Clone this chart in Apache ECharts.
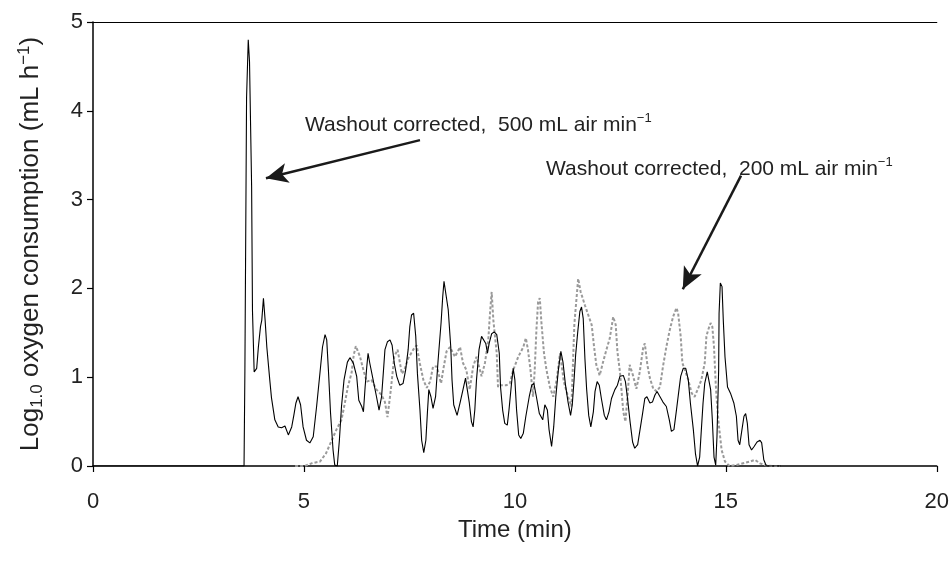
<!DOCTYPE html>
<html><head><meta charset="utf-8">
<script src="https://cdn.jsdelivr.net/npm/echarts@6/dist/echarts.min.js"></script>
<style>html,body{margin:0;padding:0;background:#fff}#c{width:952px;height:562px}</style>
</head><body><div id="c"></div>
<script>
// ---- data (time in min, log10 oxygen consumption) ----
const xTicks = [0, 5, 10, 15, 20];
const yTicks = [0, 1, 2, 3, 4, 5];

// Washout corrected, 500 mL air min-1 (solid black)
const washout500 = [
 [0,0],[3.58,0],[3.60,1.05],[3.64,4.15],[3.68,4.8],[3.71,4.55],[3.76,3.14],[3.78,1.75],[3.82,1.06],[3.88,1.10],
 [3.92,1.34],[3.97,1.57],[4.00,1.64],[4.04,1.89],[4.08,1.64],[4.12,1.34],[4.19,0.97],[4.23,0.77],[4.31,0.52],[4.39,0.44],
 [4.47,0.43],[4.55,0.45],[4.63,0.35],[4.71,0.44],[4.76,0.57],[4.81,0.71],[4.86,0.78],[4.92,0.69],[4.98,0.44],[5.06,0.29],
 [5.14,0.26],[5.22,0.33],[5.30,0.67],[5.38,1.05],[5.44,1.34],[5.50,1.48],[5.54,1.42],[5.58,1.08],[5.63,0.60],[5.69,0.18],
 [5.73,0.01],[5.79,0],[5.84,0.29],[5.89,0.67],[5.95,0.97],[6.03,1.17],[6.09,1.22],[6.17,1.16],[6.25,1.01],[6.30,0.74],
 [6.37,0.67],[6.41,0.61],[6.45,0.89],[6.49,1.12],[6.52,1.27],[6.56,1.16],[6.64,0.97],[6.72,0.78],[6.78,0.63],[6.84,0.78],
 [6.88,1.04],[6.92,1.31],[6.98,1.40],[7.04,1.42],[7.09,1.36],[7.14,1.16],[7.20,1.01],[7.27,0.91],[7.35,0.93],[7.41,1.08],
 [7.47,1.31],[7.51,1.57],[7.55,1.70],[7.60,1.72],[7.65,1.46],[7.69,1.04],[7.75,0.63],[7.79,0.29],[7.84,0.15],[7.89,0.29],
 [7.93,0.63],[7.96,0.86],[8.01,0.78],[8.06,0.65],[8.12,0.78],[8.18,1.19],[8.25,1.61],[8.29,1.91],[8.32,2.08],[8.36,2.06],
 [8.42,1.76],[8.48,1.34],[8.51,0.97],[8.55,0.69],[8.63,0.57],[8.70,0.71],[8.77,0.86],[8.83,0.99],[8.87,0.97],[8.92,0.71],
 [8.97,0.50],[9.01,0.44],[9.05,0.63],[9.09,0.97],[9.15,1.31],[9.21,1.46],[9.25,1.48],[9.31,1.38],[9.35,1.27],[9.39,1.38],
 [9.45,1.49],[9.51,1.51],[9.57,1.48],[9.63,1.27],[9.66,0.89],[9.71,0.63],[9.76,0.48],[9.82,0.46],[9.86,0.63],[9.92,0.93],
 [9.96,1.10],[10.00,0.97],[10.04,0.63],[10.09,0.35],[10.14,0.31],[10.20,0.37],[10.26,0.56],[10.34,0.78],[10.40,0.91],[10.45,0.93],
 [10.51,0.78],[10.58,0.59],[10.66,0.52],[10.71,0.69],[10.77,0.63],[10.81,0.41],[10.87,0.22],[10.92,0.44],[10.97,0.78],[11.03,1.08],
 [11.09,1.29],[11.14,1.17],[11.20,0.91],[11.26,0.72],[11.32,0.57],[11.36,0.69],[11.40,0.95],[11.44,1.25],[11.49,1.51],[11.54,1.74],
 [11.58,1.79],[11.62,1.66],[11.66,1.21],[11.70,0.87],[11.75,0.57],[11.80,0.44],[11.86,0.61],[11.90,0.84],[11.95,0.95],[12.00,0.91],
 [12.05,0.76],[12.12,0.57],[12.17,0.52],[12.23,0.61],[12.29,0.76],[12.37,0.86],[12.43,0.91],[12.49,1.01],[12.57,1.02],[12.62,0.95],
 [12.67,0.76],[12.73,0.50],[12.79,0.27],[12.84,0.20],[12.91,0.24],[12.96,0.39],[13.02,0.57],[13.08,0.76],[13.13,0.78],[13.20,0.71],
 [13.26,0.72],[13.32,0.80],[13.37,0.84],[13.44,0.78],[13.51,0.72],[13.59,0.67],[13.66,0.52],[13.71,0.39],[13.77,0.41],[13.83,0.63],
 [13.89,0.86],[13.93,1.01],[13.99,1.10],[14.05,1.10],[14.11,0.97],[14.16,0.71],[14.23,0.41],[14.28,0.14],[14.33,0],[14.38,0.10],
 [14.42,0.41],[14.46,0.71],[14.50,0.93],[14.56,1.06],[14.60,1.04],[14.64,0.86],[14.68,0.52],[14.72,0.10],[14.76,0.01],[14.79,0.33],
 [14.83,1.08],[14.84,1.72],[14.87,2.06],[14.91,2.02],[14.94,1.64],[14.98,1.23],[15.04,0.89],[15.11,0.82],[15.19,0.71],[15.25,0.56],
 [15.29,0.29],[15.33,0.24],[15.37,0.37],[15.43,0.56],[15.47,0.59],[15.51,0.48],[15.55,0.24],[15.61,0.18],[15.67,0.22],[15.74,0.27],
 [15.81,0.29],[15.85,0.26],[15.90,0.07],[15.96,0],[16.30,0]
];

// Washout corrected, 200 mL air min-1 (grey dotted)
const washout200 = [
 [4.79,0],[5.02,0],[5.18,0.03],[5.38,0.05],[5.52,0.14],[5.66,0.29],[5.77,0.41],[5.89,0.52],[5.97,0.71],[6.04,0.89],
 [6.13,1.05],[6.18,1.25],[6.23,1.35],[6.33,1.23],[6.41,1.08],[6.49,0.95],[6.60,0.97],[6.72,0.86],[6.84,0.80],[6.92,0.72],
 [6.98,0.55],[7.06,0.86],[7.14,1.23],[7.22,1.31],[7.32,1.04],[7.38,1.08],[7.47,1.21],[7.59,1.31],[7.67,1.36],[7.75,1.15],
 [7.83,0.97],[7.91,0.88],[7.99,0.95],[8.06,1.12],[8.15,1.12],[8.25,0.93],[8.30,1.08],[8.38,1.29],[8.46,1.34],[8.58,1.23],
 [8.70,1.34],[8.77,1.16],[8.85,1.08],[8.93,0.86],[9.01,1.12],[9.09,1.23],[9.21,1.01],[9.29,1.16],[9.37,1.42],[9.41,1.72],
 [9.45,1.96],[9.49,1.64],[9.57,1.27],[9.60,0.89],[9.68,0.91],[9.80,0.91],[9.88,0.93],[9.96,1.08],[10.08,1.23],[10.20,1.34],
 [10.26,1.44],[10.31,1.31],[10.37,1.08],[10.43,0.78],[10.47,1.08],[10.51,1.53],[10.55,1.85],[10.59,1.89],[10.63,1.61],[10.69,1.27],
 [10.75,1.08],[10.83,0.89],[10.91,0.78],[10.99,0.97],[11.07,1.27],[11.16,0.95],[11.26,0.78],[11.34,0.67],[11.41,1.60],[11.50,2.11],
 [11.56,1.96],[11.66,1.81],[11.74,1.70],[11.82,1.59],[11.88,1.33],[11.93,1.14],[12.01,1.02],[12.09,1.17],[12.17,1.31],[12.25,1.44],
 [12.33,1.68],[12.39,1.59],[12.43,1.29],[12.49,1.06],[12.53,0.84],[12.57,0.61],[12.62,0.50],[12.68,0.84],[12.72,1.14],[12.80,1.02],
 [12.88,0.87],[12.96,1.06],[13.04,1.33],[13.08,1.38],[13.14,1.14],[13.20,0.99],[13.28,0.87],[13.36,0.84],[13.44,0.89],[13.51,1.12],
 [13.59,1.34],[13.67,1.53],[13.75,1.68],[13.83,1.78],[13.87,1.72],[13.93,1.46],[13.97,1.16],[14.03,1.08],[14.11,0.97],[14.19,0.82],
 [14.26,0.78],[14.34,0.87],[14.42,0.97],[14.50,1.16],[14.54,1.46],[14.58,1.53],[14.64,1.61],[14.68,1.57],[14.72,1.34],[14.76,0.93],
 [14.79,0.71],[14.83,0.48],[14.90,0.18],[14.98,0.05],[15.09,0],[15.25,0.01],[15.41,0.03],[15.57,0.05],[15.69,0.07],[15.81,0.03],
 [15.92,0.01],[16.11,0],[16.28,0]
];

const annotation500 = 'Washout corrected,  500 mL air min';
const annotation200 = 'Washout corrected,  200 mL air min';
const arrow500 = [[7.75, 3.67], [4.10, 3.24]];
const arrow200 = [[15.36, 3.27], [13.98, 1.99]];

const FONT = "'Liberation Sans', Arial, sans-serif";
const chart = echarts.init(document.getElementById('c'), null, {renderer: 'canvas'});

const supRich = {
  sup: {fontSize: 13, lineHeight: 13, verticalAlign: 'top', fontFamily: FONT, color: '#222'}
};

const axisBase = {
  axisLine: {show: true, onZero: false, lineStyle: {color: '#000', width: 1.5}},
  axisTick: {show: true, inside: false, length: 6, lineStyle: {color: '#000', width: 1.2}},
  splitLine: {show: false}
};

chart.setOption({
  animation: false,
  backgroundColor: '#fff',
  grid: {left: 93, right: 15, top: 22, bottom: 96, show: false},
  xAxis: [{
    type: 'value', min: xTicks[0], max: xTicks[xTicks.length - 1], interval: 5,
    name: 'Time (min)', nameLocation: 'middle', nameGap: 43,
    nameTextStyle: {fontFamily: FONT, fontSize: 24, color: '#222'},
    axisLabel: {fontFamily: FONT, fontSize: 22, color: '#222', margin: 25},
    ...axisBase
  }, {
    type: 'value', position: 'top', min: xTicks[0], max: xTicks[xTicks.length - 1], interval: 5,
    axisLine: {show: true, onZero: false, lineStyle: {color: '#000', width: 1.2}},
    axisTick: {show: false}, axisLabel: {show: false}, splitLine: {show: false}
  }],
  yAxis: {
    type: 'value', min: yTicks[0], max: yTicks[yTicks.length - 1], interval: 1,
    name: 'Log{sub|1.0} oxygen consumption (mL h{sup|−1})',
    nameLocation: 'middle', nameGap: 47, nameRotate: 90,
    nameTextStyle: {
      fontFamily: FONT, fontSize: 26, color: '#222', lineHeight: 30,
      rich: {
        sub: {fontSize: 17, lineHeight: 17, verticalAlign: 'bottom', fontFamily: FONT, color: '#222'},
        sup: {fontSize: 17, lineHeight: 17, verticalAlign: 'top', fontFamily: FONT, color: '#222'}
      }
    },
    axisLabel: {fontFamily: FONT, fontSize: 22, color: '#222', margin: 10},
    ...axisBase
  },
  series: [
    {
      name: '200', type: 'line', data: washout200, showSymbol: false, symbol: 'none',
      lineStyle: {color: '#9a9a9a', width: 2, type: [3, 2]}, z: 2
    },
    {
      name: '500', type: 'line', data: washout500, showSymbol: false, symbol: 'none',
      lineStyle: {color: '#000', width: 1.1}, z: 3,
      markLine: {
        silent: true, animation: false,
        symbol: ['none', 'arrow'], symbolSize: [15, 22],
        label: {show: false},
        lineStyle: {color: '#1a1a1a', width: 2.5, type: 'solid'},
        data: [
          [{coord: arrow500[0]}, {coord: arrow500[1]}],
          [{coord: arrow200[0]}, {coord: arrow200[1]}]
        ]
      }
    }
  ],
  graphic: [
    {type: 'text', left: 305, top: 112, style: {
      text: annotation500 + '{sup|−1}', fontFamily: FONT, fontSize: 21, lineHeight: 26, fill: '#222', rich: supRich}},
    {type: 'text', left: 546, top: 156, style: {
      text: annotation200 + '{sup|−1}', fontFamily: FONT, fontSize: 21, lineHeight: 26, fill: '#222', rich: supRich}}
  ]
});
</script>
</body></html>
